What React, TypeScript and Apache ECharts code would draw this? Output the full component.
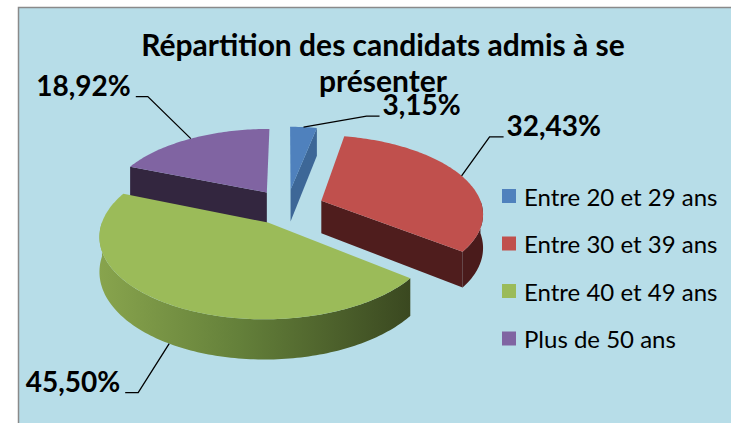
import React, { useEffect, useRef } from "react";
import * as echarts from "echarts";

// ---- data ----
const categories = ["Entre 20 et 29 ans", "Entre 30 et 39 ans", "Entre 40 et 49 ans", "Plus de 50 ans"];
const shares = [3.15, 32.43, 45.5, 18.92];
const titleText = "Répartition des candidats admis à se\nprésenter";

// ---- styles ----
const topColors = ["#4f81bd", "#c0504d", "#9bbb59", "#8064a2"];
const faceColors = ["#3d6797", "#4f1d1d", "#4a5e2a", "#33263f"];
const wallColors: any[] = [
  "#3d6797",
  "#4a1b1b",
  {
    type: "linear", x: 0, y: 0, x2: 1, y2: 0,
    colorStops: [
      { offset: 0, color: "#88a44d" },
      { offset: 0.45, color: "#64803a" },
      { offset: 1, color: "#3a4820" },
    ],
  },
  "#33263f",
];
// geometry of the projected 3D pie
const CX = 287, CY = 206.7, RX = 161, RY = 77, PERSP = 0.15, DEPTH = 33, EXPLODE = 0.23;
// label leader layout per slice: elbow offset from anchor, horizontal segment length
const labelLayout = [
  { dx: 63, dy: -11, len: 13 },
  { dx: 28, dy: -39, len: 14 },
  { dx: -31, dy: 49, len: -13 },
  { dx: -43, dy: -42, len: -12 },
];
const FONT = "Lato";

const total = shares.reduce((s, v) => s + v, 0);
const starts = shares.map((_, i) => shares.slice(0, i).reduce((s, v) => s + v, 0));

function proj(X: number, Z: number, d: number): number[] {
  const s = 1 / (1 + PERSP * Z);
  return [CX + RX * X * s, CY - RY * Z * s + d * DEPTH * s];
}

function makeRender(idx: number) {
  return function renderItem(_params: any, api: any) {
    const start = api.value(0) as number;
    const val = api.value(1) as number;
    const a = (start / total) * Math.PI * 2;
    const b = ((start + val) / total) * Math.PI * 2;
    const m = (a + b) / 2;
    const ox = EXPLODE * Math.sin(m);
    const oz = EXPLODE * Math.cos(m);
    const pt = (t: number, r: number, d: number) => proj(ox + r * Math.sin(t), oz + r * Math.cos(t), d);
    const arc = (t0: number, t1: number, d: number) => {
      const n = Math.max(2, Math.ceil(Math.abs(t1 - t0) / 0.02));
      const out: number[][] = [];
      for (let k = 0; k <= n; k++) out.push(pt(t0 + ((t1 - t0) * k) / n, 1, d));
      return out;
    };
    const base = Math.round((1 - Math.cos(m)) * 10) * 2;
    const children: any[] = [];
    // outer wall (front half only)
    const lo = Math.max(a, Math.PI / 2);
    const hi = Math.min(b, (Math.PI * 3) / 2);
    if (lo < hi) {
      const pts = arc(lo, hi, 0).concat(arc(hi, lo, 1));
      children.push({ type: "polygon", z2: base, shape: { points: pts }, style: { fill: wallColors[idx] } });
    }
    // radial faces
    const face = (t: number) => [pt(t, 0, 0), pt(t, 1, 0), pt(t, 1, 1), pt(t, 0, 1)];
    if (Math.sin(a) < -1e-6) {
      children.push({ type: "polygon", z2: base, shape: { points: face(a) }, style: { fill: faceColors[idx] } });
    }
    if (Math.sin(b) > 1e-6) {
      children.push({ type: "polygon", z2: base, shape: { points: face(b) }, style: { fill: faceColors[idx] } });
    }
    // top
    const topPts = [pt(0, 0, 0)].concat(arc(a, b, 0));
    children.push({ type: "polygon", z2: base + 1, shape: { points: topPts }, style: { fill: topColors[idx] } });
    // label + leader
    const anchor = pt(m, 1, Math.cos(m) < 0 ? 1 : 0);
    const L = labelLayout[idx];
    const elbow = [anchor[0] + L.dx, anchor[1] + L.dy];
    const end = [elbow[0] + L.len, elbow[1]];
    children.push({
      type: "polyline", z2: 100,
      shape: { points: [anchor, elbow, end] },
      style: { stroke: "#000", lineWidth: 1.3, fill: null },
    });
    children.push({
      type: "text", z2: 101,
      x: end[0] + (L.len > 0 ? 3 : -5),
      y: elbow[1] + 2,
      style: {
        text: val.toFixed(2).replace(".", ",") + "%",
        fontFamily: FONT, fontWeight: "bold", fontSize: 28, fill: "#000",
        align: L.len > 0 ? "left" : "right", verticalAlign: "bottom",
      },
    });
    return { type: "group", children };
  };
}

export default function App() {
  const ref = useRef<HTMLDivElement>(null);
  useEffect(() => {
    if (!ref.current) return;
    const chart = echarts.init(ref.current, null, { renderer: "svg" });
    chart.setOption({
      animation: false,
      backgroundColor: "#ffffff",
      graphic: [
        {
          type: "rect", z: -10,
          shape: { x: 18.5, y: 7.5, width: 730, height: 430 },
          style: { fill: "#b7dde8", stroke: "#8a8a8a", lineWidth: 1.5 },
        },
      ],
      title: {
        text: titleText,
        left: 378,
        top: 21,
        textAlign: "center",
        textStyle: { fontFamily: FONT, fontWeight: "bold", fontSize: 30, lineHeight: 36, color: "#000" },
      },
      legend: {
        orient: "vertical",
        left: 497,
        top: 179,
        itemWidth: 14,
        itemHeight: 14,
        itemGap: 23.5,
        icon: "rect",
        data: categories,
        textStyle: { fontFamily: FONT, fontSize: 24, lineHeight: 22, color: "#000", padding: [0, 0, 0, 3] },
      },
      series: categories.map((name, i) => ({
        type: "custom",
        name,
        coordinateSystem: "none",
        silent: true,
        itemStyle: { color: topColors[i] },
        data: [[starts[i], shares[i]]],
        renderItem: makeRender(i),
      })),
    });
    return () => chart.dispose();
  }, []);
  return <div ref={ref} style={{ position: "fixed", left: 0, top: 0, width: 731, height: 423 }} />;
}
